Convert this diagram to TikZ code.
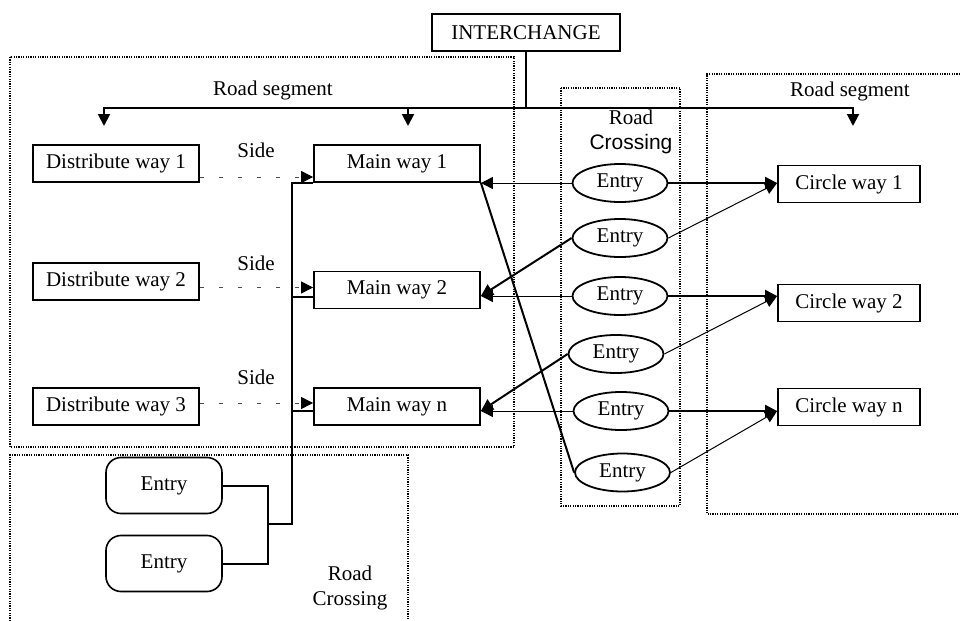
\documentclass[tikz,border=0pt]{standalone}
\usepackage{fontspec}
\setmainfont{Liberation Serif}
\setsansfont{Liberation Sans}
\usetikzlibrary{arrows.meta,shapes}
\tikzstyle{waybox}=[draw,line width=0.9pt,minimum width=83pt,minimum height=18.5pt,inner sep=0pt]
\tikzstyle{entry}=[draw,ellipse,line width=0.9pt,minimum width=47.5pt,minimum height=19pt,inner sep=0pt]
\tikzstyle{entrybox}=[draw,rounded corners=7.5pt,line width=0.8pt,minimum width=58pt,minimum height=28pt,inner sep=0pt]
\tikzstyle{region}=[line width=0.6pt,dash pattern=on 0.6pt off 0.6pt]
\tikzstyle{link}=[line width=1pt]
\tikzstyle{thinlink}=[line width=0.5pt]
\tikzstyle{sidelink}=[line width=0.5pt,dash pattern=on 2pt off 7.5pt,gray!60!black]
\tikzstyle{fwd}=[-{Triangle[length=6pt,width=6pt,black]}]

\begin{document}
\begin{tikzpicture}[x=0.5pt,y=-0.5pt,font=\fontsize{10.5}{12.5}\selectfont]
\useasboundingbox (0,0) rectangle (960,621);

% dotted regions
\draw[region] (10,57) rectangle (514,447);
\draw[region] (561,88) rectangle (680,506);
\draw[region] (960,74) -| (707,514) -- (960,514);
\draw[region] (10,621) |- (408,455) -- (408,621);

% ways
\node[waybox,minimum width=94pt] (inter) at (526,32.5) {INTERCHANGE};
\node[waybox] (dist1) at (116,163.5) {Distribute way 1};
\node[waybox] (dist2) at (116,281.5) {Distribute way 2};
\node[waybox] (dist3) at (116,406.5) {Distribute way 3};
\node[waybox] (main1) at (397,163.5) {Main way 1};
\node[waybox] (main2) at (397,290) {Main way 2};
\node[waybox] (mainn) at (397,406.5) {Main way n};
\node[waybox,minimum width=71pt] (circ1) at (849,184) {Circle way 1};
\node[waybox,minimum width=71pt] (circ2) at (849,303) {Circle way 2};
\node[waybox,minimum width=71pt] (circn) at (849,407) {Circle way n};

% entries
\node[entry] (e1) at (620,183) {Entry};
\node[entry] (e2) at (620,238) {Entry};
\node[entry] (e3) at (620,296) {Entry};
\node[entry] (e4) at (616,354) {Entry};
\node[entry] (e5) at (621,411) {Entry};
\node[entry] (e6) at (622.5,472.5) {Entry};
\node[entrybox] (r1) at (164,485.5) {Entry};
\node[entrybox] (r2) at (164,563.5) {Entry};

% labels
\node (seglabel1) at (273,90) {Road segment};
\node (seglabel2) at (850,91) {Road segment};
\node[align=center] (crosslabel1) at (631,131.5) {Road\\\sffamily Crossing};
\node[align=center] (crosslabel2) at (350,587.5) {Road\\Crossing};
\node (side1) at (256,150) {Side};
\node (side2) at (256,263) {Side};
\node (side3) at (256,377) {Side};

% interchange bus
\coordinate (bus) at (526,108);
\coordinate (seg1) at (104,126);
\coordinate (seg2) at (408,126);
\coordinate (seg3) at (853,126);
\draw[link,fwd] (inter.south) |- (seg1 |- bus) -- (seg1);
\draw[link,fwd] (seg2 |- bus) -- (seg2);
\draw[link,fwd] (inter.south) |- (seg3 |- bus) -- (seg3);

% side links
\draw[sidelink,fwd] ([yshift=-6.75pt]dist1.east) coordinate (s1) -- (s1 -| main1.west);
\draw[sidelink,fwd] ([yshift=-3pt]dist2.east) coordinate (s2) -- (s2 -| main2.west);
\draw[sidelink,fwd] ([yshift=1.75pt]dist3.east) coordinate (s3) -- (s3 -| mainn.west);

% lower entries to main ways
\coordinate (join) at (268,524);
\coordinate (trunk) at (292,524);
\draw[link] (r1.east) -| (join) |- (r2.east);
\draw[link] (join) -- (trunk) |- (main1.south west);
\draw[link] ([yshift=-3.5pt]main2.west) -| (trunk);
\draw[link] ([yshift=-2.25pt]mainn.west) -| (trunk);

% crossing entries
\draw[thinlink,fwd] (e1.west) -- (e1.west -| main1.east);
\draw[link] (main1.south east) -- (e6.west);
\draw[link,fwd] (e2.west) -- (e3.west -| main2.east);
\draw[thinlink,fwd] (e3.west) -- (e3.west -| main2.east);
\draw[link,fwd] (e4.west) -- (e5.west -| mainn.east);
\draw[thinlink,fwd] (e5.west) -- (e5.west -| mainn.east);
\draw[link,fwd] (e1.east) -- (e1.east -| circ1.west);
\draw[thinlink,fwd] (e2.east) -- (e1.east -| circ1.west);
\draw[link,fwd] (e3.east) -- (e3.east -| circ2.west);
\draw[thinlink,fwd] (e4.east) -- (e3.east -| circ2.west);
\draw[link,fwd] (e5.east) -- (e5.east -| circn.west);
\draw[thinlink,fwd] (e6.east) -- (e5.east -| circn.west);
\end{tikzpicture}
\end{document}
